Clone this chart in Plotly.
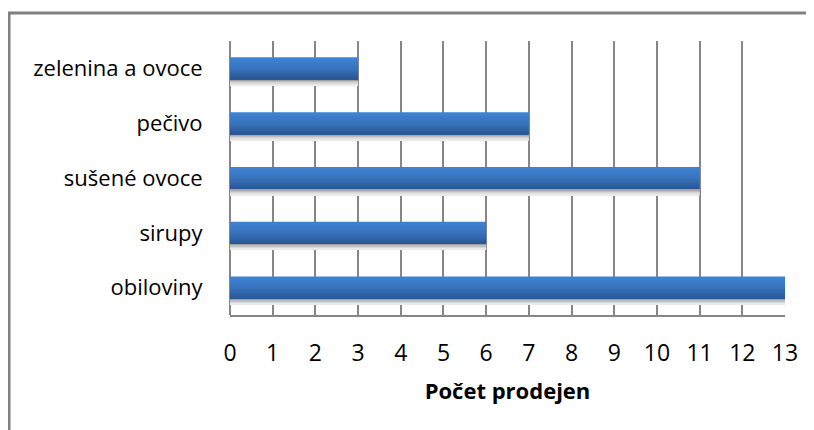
import plotly.graph_objects as go

categories = ["obiloviny", "sirupy", "sušené ovoce", "pečivo", "zelenina a ovoce"]
values = [13, 6, 11, 7, 3]
x_ticks = list(range(0, 14))
x_title = "Počet prodejen"

FONT = "Open Sans"
GRID = "#868686"

def lerp(c1, c2, t):
    a = [int(c1[i:i+2], 16) for i in (1, 3, 5)]
    b = [int(c2[i:i+2], 16) for i in (1, 3, 5)]
    return "#" + "".join(f"{round(a[k] + (b[k]-a[k])*t):02x}" for k in range(3))

fig = go.Figure()

bar_w = 0.4
shadow_cols = ["#a0a0a0", "#bcbcbc", "#d6d6d6", "#eaeaea"]
sh = 0.028
for j, col in enumerate(shadow_cols):
    fig.add_trace(go.Bar(
        y=categories, x=values, orientation="h",
        width=sh, offset=-bar_w/2 - (j+1)*sh,
        marker=dict(color=col, line=dict(width=0)),
        hoverinfo="skip", showlegend=False))

N = 12
top, mid, bot = "#3f82d2", "#3873bd", "#2a5896"
h = bar_w / N
for i in range(N):
    t = i / (N - 1)
    col = lerp(top, mid, t*2) if t < 0.5 else lerp(mid, bot, (t-0.5)*2)
    fig.add_trace(go.Bar(
        y=categories, x=values, orientation="h",
        width=h*1.05, offset=bar_w/2 - (i+1)*h,
        marker=dict(color=col, line=dict(width=0)),
        hoverinfo="skip", showlegend=False))

# page has an 8px body margin; figure origin is at (8, 8)
L, R, T, B = 222, 29, 33, 115
W, H = 806, 422
pw, ph = W - L - R, H - T - B

def px(xfig):
    return (xfig - L) / pw

def py(yfig):
    return (H - B - yfig) / ph

fig.update_layout(
    width=W, height=H,
    margin=dict(l=L, r=R, t=T, b=B),
    paper_bgcolor="white", plot_bgcolor="white",
    barmode="overlay",
    showlegend=False,
    font=dict(family=FONT, size=22, color="#000000"),
    xaxis=dict(
        range=[0, 13], tickvals=x_ticks, ticktext=[str(v) for v in x_ticks],
        showgrid=True, gridcolor=GRID, gridwidth=1.7,
        zeroline=True, zerolinecolor=GRID, zerolinewidth=1.7,
        showline=True, linecolor=GRID, linewidth=1.7,
        ticks="outside", ticklen=17, tickcolor="rgba(0,0,0,0)",
        tickfont=dict(family=FONT, size=23),
        title=dict(text="<b>" + x_title + "</b>", font=dict(family=FONT, size=22), standoff=16),
        fixedrange=True,
    ),
    yaxis=dict(
        type="category", categoryorder="array", categoryarray=categories,
        range=[-0.5, 4.5], showgrid=False, zeroline=False, showline=False,
        ticks="outside", ticklen=22, tickcolor="rgba(0,0,0,0)",
        tickfont=dict(family=FONT, size=22),
        fixedrange=True,
    ),
    shapes=[
        dict(type="line", xref="paper", yref="paper",
             x0=px(0), x1=px(W + 20), y0=py(5), y1=py(5),
             line=dict(color="#808080", width=3)),
        dict(type="line", xref="paper", yref="paper",
             x0=px(1), x1=px(1), y0=py(5), y1=py(H + 20),
             line=dict(color="#808080", width=3)),
    ],
)

fig.write_html("out.html")
